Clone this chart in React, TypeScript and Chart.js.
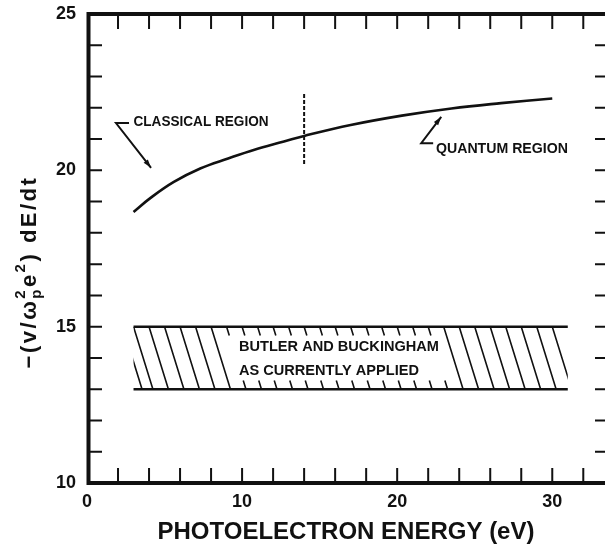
import React, { useEffect, useRef } from "react";
import { Chart, registerables } from "chart.js";

Chart.register(...registerables);

// ---- data ----
const energy = [3, 4.1, 5.6, 7.3, 9.1, 10.8, 12.7, 14, 17, 20.3, 23.5, 26.7, 30];
const stopping = [18.67, 19.12, 19.63, 20.06, 20.38, 20.66, 20.92, 21.1, 21.45, 21.75, 21.98, 22.15, 22.3];

const boundaryX = [14.0, 14.0];
const boundaryY = [20.2, 22.5];

const bandLow = 13;
const bandHigh = 15;
const bandStart = 3;
const bandEnd = 31;
const fullHatchTops = [2.3, 3, 4, 5, 6, 7, 8, 23, 24, 25, 26, 27, 28, 29, 30];
const shortHatchTops = [9, 10, 11, 12, 13, 14, 15, 16, 17, 18, 19, 20, 21, 22];
const hatchSlant = 1.25;

const xMinorTicks = [2, 4, 6, 8, 10, 12, 14, 16, 18, 20, 22, 24, 26, 28, 30, 32];
const yMinorTicks = [11, 12, 13, 14, 15, 16, 17, 18, 19, 20, 21, 22, 23, 24];
const xLabelValues = [0, 10, 20, 30];
const yLabelValues = [10, 15, 20, 25];

const xTitle = "PHOTOELECTRON ENERGY (eV)";
const labelClassical = "CLASSICAL REGION";
const labelQuantum = "QUANTUM REGION";
const labelBand1 = "BUTLER AND BUCKINGHAM";
const labelBand2 = "AS CURRENTLY APPLIED";

const FONT = '"Liberation Sans", Arial, sans-serif';

function fitText(ctx: CanvasRenderingContext2D, text: string, x: number, y: number, size: number, width: number) {
  ctx.save();
  ctx.font = `bold ${size}px ${FONT}`;
  const w = ctx.measureText(text).width;
  ctx.translate(x, y);
  ctx.scale(width / w, 1);
  ctx.textBaseline = "middle";
  ctx.textAlign = "left";
  ctx.fillStyle = "#111";
  ctx.fillText(text, 0, 0);
  ctx.restore();
}

function arrowHead(ctx: CanvasRenderingContext2D, fx: number, fy: number, tx: number, ty: number, size: number) {
  const a = Math.atan2(ty - fy, tx - fx);
  ctx.beginPath();
  ctx.moveTo(tx, ty);
  ctx.lineTo(tx - size * Math.cos(a - 0.3), ty - size * Math.sin(a - 0.3));
  ctx.lineTo(tx - size * Math.cos(a + 0.3), ty - size * Math.sin(a + 0.3));
  ctx.closePath();
  ctx.fill();
}

const decorPlugin = {
  id: "decor",
  afterDraw(chart: any) {
    const ctx: CanvasRenderingContext2D = chart.ctx;
    const xs = chart.scales.x;
    const ys = chart.scales.y;
    const { left, right, top, bottom } = chart.chartArea;
    const X = (v: number) => xs.getPixelForValue(v);
    const Y = (v: number) => ys.getPixelForValue(v);
    ctx.save();
    ctx.strokeStyle = "#111";
    ctx.fillStyle = "#111";
    ctx.lineCap = "butt";

    // axes frame
    ctx.lineWidth = 4;
    ctx.beginPath();
    ctx.moveTo(left + 1.5, top - 2);
    ctx.lineTo(left + 1.5, bottom + 2);
    ctx.moveTo(left, top);
    ctx.lineTo(right, top);
    ctx.moveTo(left, bottom);
    ctx.lineTo(right, bottom);
    ctx.stroke();

    // inward ticks
    ctx.lineWidth = 2;
    ctx.beginPath();
    for (const v of xMinorTicks) {
      const px = X(v);
      ctx.moveTo(px, top);
      ctx.lineTo(px, top + 15);
      ctx.moveTo(px, bottom);
      ctx.lineTo(px, bottom - 15);
    }
    for (const v of yMinorTicks) {
      const py = Y(v);
      ctx.moveTo(left, py);
      ctx.lineTo(left + 15, py);
      ctx.moveTo(right, py);
      ctx.lineTo(right - 10, py);
    }
    ctx.stroke();

    // band
    const bx0 = X(bandStart);
    const bx1 = X(bandEnd);
    const by0 = Y(bandHigh);
    const by1 = Y(bandLow);
    ctx.lineWidth = 2.5;
    ctx.beginPath();
    ctx.moveTo(bx0, by0);
    ctx.lineTo(bx1, by0);
    ctx.moveTo(bx0, by1);
    ctx.lineTo(bx1, by1);
    ctx.stroke();

    ctx.save();
    ctx.beginPath();
    ctx.rect(bx0, by0, bx1 - bx0, by1 - by0);
    ctx.clip();
    ctx.lineWidth = 1.6;
    ctx.beginPath();
    for (const t of fullHatchTops) {
      ctx.moveTo(X(t), by0);
      ctx.lineTo(X(t + hatchSlant), by1);
    }
    const frac = 0.14;
    for (const t of shortHatchTops) {
      ctx.moveTo(X(t), by0);
      ctx.lineTo(X(t + hatchSlant * frac), Y(bandHigh - (bandHigh - bandLow) * frac));
      ctx.moveTo(X(t + hatchSlant * (1 - frac)), Y(bandLow + (bandHigh - bandLow) * frac));
      ctx.lineTo(X(t + hatchSlant), by1);
    }
    ctx.stroke();
    ctx.restore();

    // band labels
    fitText(ctx, labelBand1, X(9.8), Y(14.35), 14, 200);
    fitText(ctx, labelBand2, X(9.8), Y(13.58), 14, 180);

    // classical label + leader
    fitText(ctx, labelClassical, X(3.0), Y(21.56), 15, 135);
    ctx.lineWidth = 2;
    ctx.beginPath();
    ctx.moveTo(X(2.71), Y(21.51));
    ctx.lineTo(X(1.87), Y(21.51));
    ctx.lineTo(X(4.13), Y(20.08));
    ctx.stroke();
    arrowHead(ctx, X(1.87), Y(21.51), X(4.13), Y(20.08), 9);

    // quantum label + leader
    fitText(ctx, labelQuantum, X(22.5), Y(20.68), 15, 132);
    ctx.beginPath();
    ctx.moveTo(X(22.32), Y(20.87));
    ctx.lineTo(X(21.55), Y(20.87));
    ctx.lineTo(X(22.84), Y(21.71));
    ctx.stroke();
    arrowHead(ctx, X(21.55), Y(20.87), X(22.84), Y(21.71), 9);

    // y-axis title, rotated, with sub/superscripts
    const parts: [string, string][] = [
      ["\u2212(v/\u03c9", "n"],
      ["p", "sub"],
      ["2", "sup"],
      ["e", "n"],
      ["2", "sup"],
      [") dE/dt", "n"],
    ];
    const size = 22;
    const small = 15;
    ctx.save();
    (ctx as any).letterSpacing = "2.5px";
    let total = 0;
    const widths: number[] = [];
    for (let i = 0; i < parts.length; i++) {
      const [t, k] = parts[i];
      ctx.font = `bold ${k === "n" ? size : small}px ${FONT}`;
      const w = ctx.measureText(t).width;
      widths.push(w);
      total += w;
    }
    total -= Math.min(widths[1], widths[2]);
    const cy = 272;
    const baseX = 36;
    ctx.translate(baseX, cy);
    ctx.rotate(-Math.PI / 2);
    ctx.textBaseline = "alphabetic";
    ctx.textAlign = "left";
    ctx.fillStyle = "#111";
    let pos = -total / 2;
    for (let i = 0; i < parts.length; i++) {
      const [t, k] = parts[i];
      ctx.font = `bold ${k === "n" ? size : small}px ${FONT}`;
      if (k === "n") {
        ctx.fillText(t, pos, 0);
        pos += widths[i];
      } else if (k === "sub") {
        ctx.fillText(t, pos, 5);
        ctx.fillText(parts[i + 1][0], pos, -11);
        pos += Math.max(widths[i], widths[i + 1]);
        i++;
      } else {
        ctx.fillText(t, pos, -11);
        pos += widths[i];
      }
    }
    ctx.restore();

    ctx.restore();
  },
};

export default function App() {
  const ref = useRef<HTMLCanvasElement | null>(null);
  useEffect(() => {
    if (!ref.current) return;
    const chart = new Chart(ref.current, {
      type: "line",
      data: {
        datasets: [
          {
            data: energy.map((x, i) => ({ x, y: stopping[i] })),
            borderColor: "#111",
            borderWidth: 2.6,
            pointRadius: 0,
            tension: 0.4,
            fill: false,
          },
          {
            data: boundaryX.map((x, i) => ({ x, y: boundaryY[i] })),
            borderColor: "#111",
            borderWidth: 2,
            borderDash: [4, 2],
            pointRadius: 0,
            fill: false,
          },
        ],
      },
      options: {
        animation: false,
        responsive: false,
        maintainAspectRatio: false,
        layout: { padding: { top: 14, right: 0, left: 0, bottom: 0 } },
        plugins: { legend: { display: false }, tooltip: { enabled: false } },
        scales: {
          x: {
            type: "linear",
            min: 0,
            max: 33.4,
            grid: { display: false, drawTicks: false },
            border: { display: false },
            ticks: {
              stepSize: 10,
              includeBounds: false,
              autoSkip: false,
              maxRotation: 0,
              padding: 8,
              color: "#111",
              font: { family: FONT, size: 18, weight: "bold" },
              callback: (v: any) => (xLabelValues.includes(Number(v)) ? String(v) : ""),
            },
            title: {
              display: true,
              text: xTitle,
              color: "#111",
              font: { family: FONT, size: 24, weight: "bold" },
              padding: { top: 0, bottom: 4 },
            },
            afterFit: (s: any) => {
              s.height = 68;
              s.paddingLeft = 0;
              s.paddingRight = 0;
            },
          },
          y: {
            type: "linear",
            min: 10,
            max: 25,
            grid: { display: false, drawTicks: false },
            border: { display: false },
            ticks: {
              stepSize: 5,
              includeBounds: false,
              padding: 11,
              color: "#111",
              font: { family: FONT, size: 18, weight: "bold" },
              callback: (v: any) => (yLabelValues.includes(Number(v)) ? String(v) : ""),
            },
            afterFit: (s: any) => {
              s.width = 87;
              s.paddingTop = 0;
              s.paddingBottom = 0;
            },
          },
        },
      },
      plugins: [decorPlugin],
    } as any);
    return () => chart.destroy();
  }, []);
  return (
    <div style={{ position: "fixed", left: 0, top: 0, width: 605, height: 551, background: "#fff" }}>
      <canvas ref={ref} width={605} height={551} style={{ display: "block", width: 605, height: 551 }} />
    </div>
  );
}
